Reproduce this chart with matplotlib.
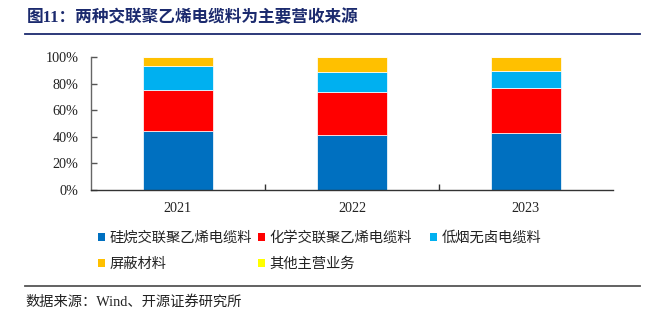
import matplotlib
matplotlib.use("Agg")
import matplotlib.pyplot as plt
from matplotlib.patches import Patch
from matplotlib.lines import Line2D
from matplotlib.ticker import FuncFormatter

# 营收结构（占比，%）
years = ["2021", "2022", "2023"]
silane = [44.6, 41.6, 42.6]
chemical = [30.8, 31.8, 34.3]
low_smoke = [18.1, 15.1, 12.8]
shielding = [6.5, 11.5, 10.3]
other = [0.0, 0.0, 0.0]

series_names = ["硅烷交联聚乙烯电缆料", "化学交联聚乙烯电缆料", "低烟无卤电缆料",
                "屏蔽材料", "其他主营业务"]
series_colors = ["#0070C0", "#FF0000", "#00B0F0", "#FFC000", "#FFFF00"]

title = "图11：两种交联聚乙烯电缆料为主要营收来源"
source = "数据来源：Wind、开源证券研究所"

SERIF = ["Liberation Serif", "Noto Sans CJK SC"]
CJK = ["Noto Sans CJK SC", "DejaVu Sans"]
NAVY = "#1B2A6E"

fig = plt.figure(figsize=(6.59, 3.24), dpi=100)
ax = fig.add_axes([0.138, 0.4136, 0.792, 0.4104])

x = range(len(years))
bottom = [0.0] * len(years)
for vals, color in zip([silane, chemical, low_smoke, shielding, other], series_colors):
    frac = [v / 100 for v in vals]
    ax.bar(x, frac, width=0.4, bottom=bottom, color=color,
           edgecolor="white", linewidth=0.5)
    bottom = [b + f for b, f in zip(bottom, frac)]

ax.set_xlim(-0.5, 2.5)
ax.set_ylim(0, 1)
ax.set_yticks([0, 0.2, 0.4, 0.6, 0.8, 1.0])
ax.yaxis.set_major_formatter(FuncFormatter(lambda v, _: f"{v * 100:.0f}%"))
ax.set_xticks(list(x))
ax.set_xticklabels(years)
ax.set_xticks([0.5, 1.5], minor=True)
ax.tick_params(axis="x", which="major", length=0, pad=9)
ax.tick_params(axis="x", which="minor", direction="in", length=4,
               width=1, color="#333333")
ax.tick_params(axis="y", direction="in", length=4, width=1,
               color="#555555", pad=9)
for lab in ax.get_xticklabels() + ax.get_yticklabels():
    lab.set_family(SERIF)
    lab.set_fontsize(10.2)
    lab.set_color("#222222")

for side in ("top", "right"):
    ax.spines[side].set_visible(False)
ax.spines["left"].set_color("#666666")
ax.spines["bottom"].set_color("#333333")
ax.spines["left"].set_linewidth(1)
ax.spines["bottom"].set_linewidth(1)

# 图例：三列，手动定位每一列
handles = [Patch(facecolor=c, edgecolor="none") for c in series_colors]
columns = [([0, 3], 98), ([1, 4], 258), ([2], 430)]
for idx, x_px in columns:
    leg = fig.legend([handles[i] for i in idx], [series_names[i] for i in idx],
                     loc="upper left", bbox_to_anchor=(x_px / 659, 1 - 231 / 324),
                     frameon=False, prop={"family": CJK, "size": 10.3},
                     handlelength=0.5, handleheight=0.5, handletextpad=0.3,
                     labelspacing=0.85, borderaxespad=0, borderpad=0)
    for t in leg.get_texts():
        t.set_color("#222222")

# 标题与分隔线
fig.text(27 / 659, 1 - 18 / 324, title, family=SERIF, weight="bold",
         fontsize=12, color=NAVY, va="center", ha="left")
fig.add_artist(Line2D([25 / 659, 640 / 659], [1 - 33.5 / 324] * 2,
                      color=NAVY, linewidth=1.3))
fig.add_artist(Line2D([25 / 659, 640 / 659], [1 - 285.5 / 324] * 2,
                      color="#555555", linewidth=1.3))
fig.text(25 / 659, 1 - 302 / 324, source, family=SERIF, fontsize=10.3,
         color="#222222", va="center", ha="left")

fig.savefig("out.png", dpi=100)
